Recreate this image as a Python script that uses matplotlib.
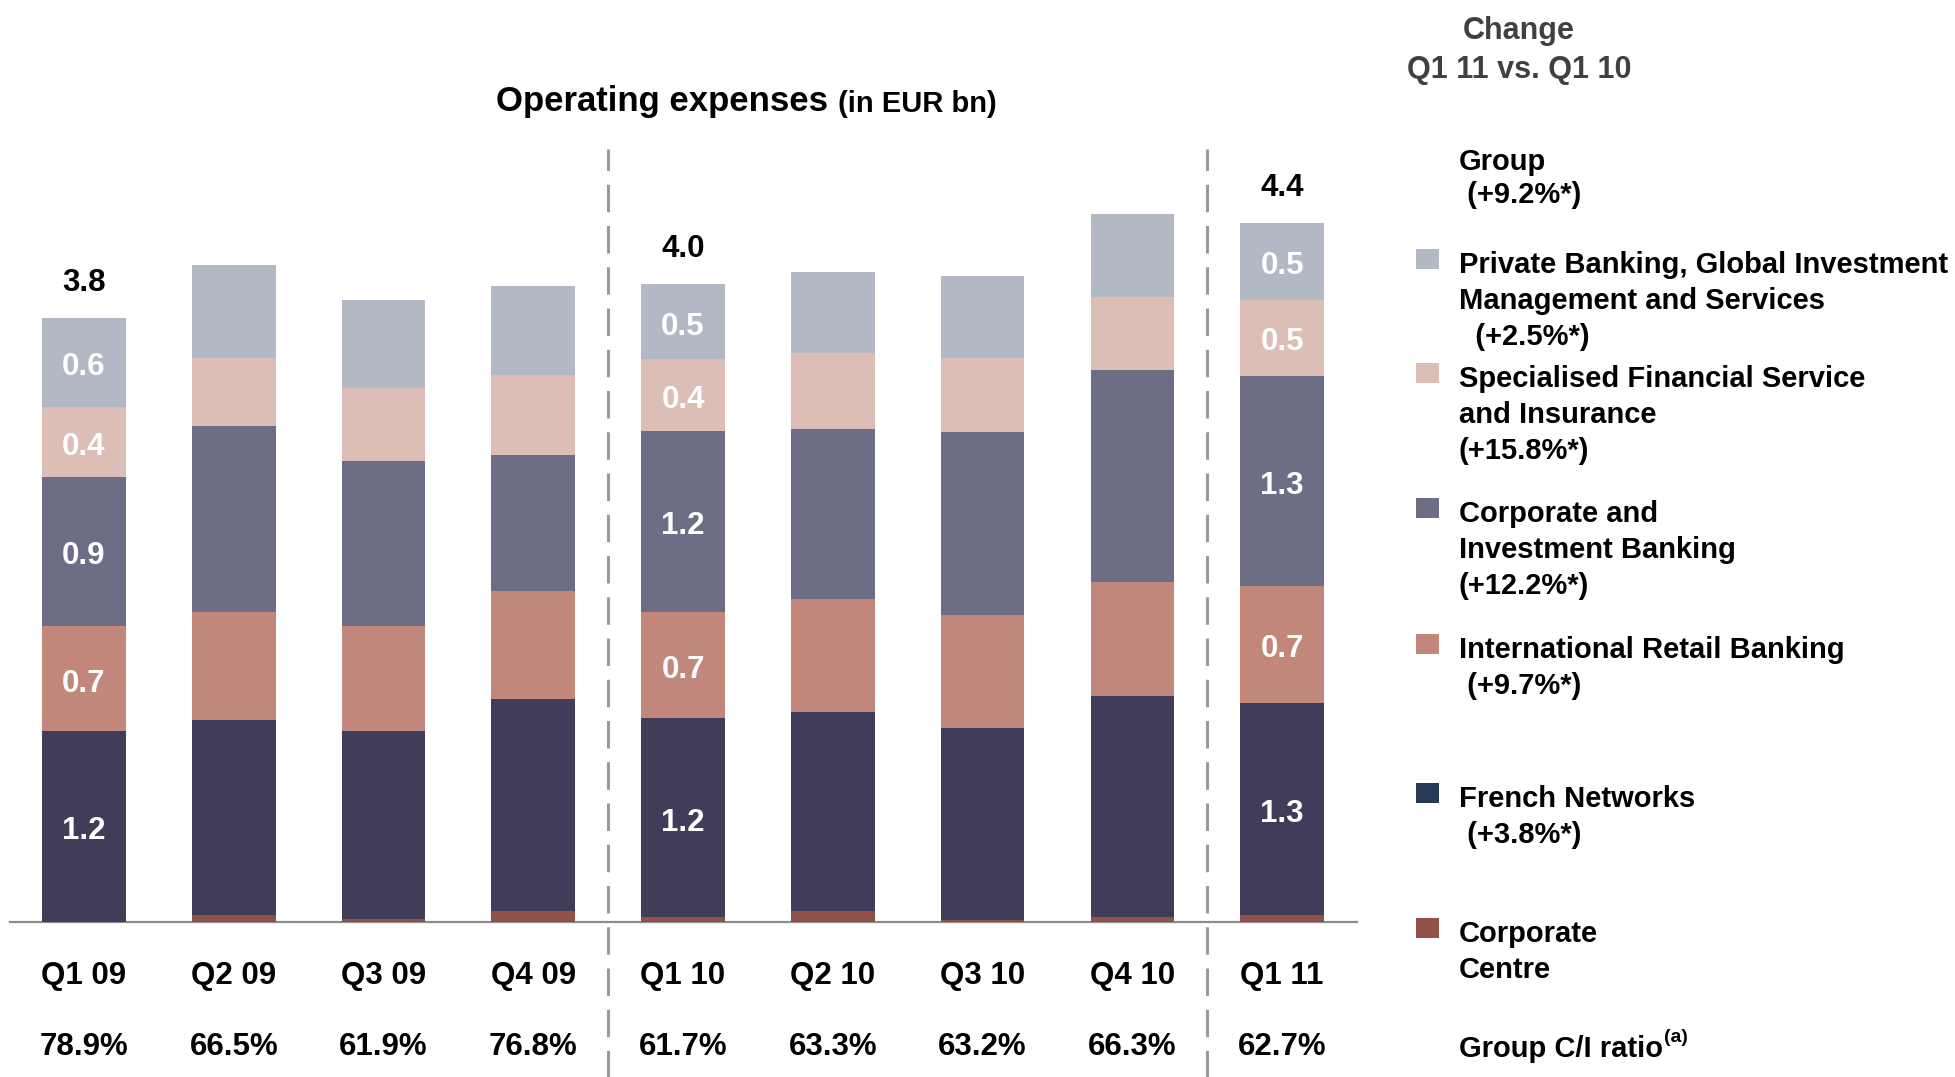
import matplotlib.pyplot as plt
from matplotlib.patches import Rectangle
import numpy as np

plt.rcParams['font.family'] = ['Liberation Sans', 'DejaVu Sans']
plt.rcParams['font.weight'] = 'bold'

# data (EUR bn)
quarters = ['Q1 09', 'Q2 09', 'Q3 09', 'Q4 09', 'Q1 10', 'Q2 10', 'Q3 10', 'Q4 10', 'Q1 11']
ci_ratio = ['78.9%', '66.5%', '61.9%', '76.8%', '61.7%', '63.3%', '63.2%', '66.3%', '62.7%']

corp_centre = [0.0, 0.045, 0.02, 0.07, 0.03, 0.07, 0.01, 0.03, 0.045]
french_net = [1.2, 1.225, 1.18, 1.33, 1.25, 1.25, 1.21, 1.39, 1.33]
intl_retail = [0.66, 0.68, 0.66, 0.68, 0.67, 0.71, 0.71, 0.72, 0.74]
cib = [0.94, 1.17, 1.04, 0.86, 1.14, 1.07, 1.15, 1.33, 1.32]
sfs = [0.44, 0.43, 0.46, 0.50, 0.45, 0.48, 0.47, 0.46, 0.48]
pbgims = [0.56, 0.58, 0.55, 0.56, 0.47, 0.51, 0.51, 0.52, 0.48]

# value labels printed on the bars (only Q1 bars carry them)
lbl_cc = ['', '', '', '', '', '', '', '', '']
lbl_fn = ['1.2', '', '', '', '1.2', '', '', '', '1.3']
lbl_irb = ['0.7', '', '', '', '0.7', '', '', '', '0.7']
lbl_cib = ['0.9', '', '', '', '1.2', '', '', '', '1.3']
lbl_sfs = ['0.4', '', '', '', '0.4', '', '', '', '0.5']
lbl_pb = ['0.6', '', '', '', '0.5', '', '', '', '0.5']
totals = ['3.8', '', '', '', '4.0', '', '', '', '4.4']

legend_names = ['Private Banking, Global Investment\nManagement and Services',
                'Specialised Financial Service\nand Insurance',
                'Corporate and\nInvestment Banking',
                'International Retail Banking',
                'French Networks',
                'Corporate\nCentre']
legend_change = ['  (+2.5%*)', '(+15.8%*)', '(+12.2%*)', ' (+9.7%*)', ' (+3.8%*)', '']
group_change = ' (+9.2%*)'

# colours
c_cc = '#8F5148'
c_fn = '#403D5A'
c_irb = '#C0877A'
c_cib = '#6D6D85'
c_sfs = '#DCBEB6'
c_pb = '#B2B9C4'
c_fn_legend = '#253B55'

W, H = 1955, 1077
fig = plt.figure(figsize=(W / 100, H / 100), dpi=100)


def fx(x):
    return x / W


def fy(y):
    # small downward nudge so va='center' text sits like the original
    return 1 - (y + 4) / H


# axes: baseline at y=922px, 159 px per bn
ax = fig.add_axes([fx(10), 1 - 922 / H, fx(1357 - 10), 795 / H])
ax.set_xlim(-0.494, 8.50)
ax.set_ylim(0, 5)
ax.axis('off')

dy = -0.03  # same nudge in data units for labels inside the axes
x = np.arange(len(quarters))
bw = 0.558
series = [(corp_centre, c_cc, lbl_cc), (french_net, c_fn, lbl_fn), (intl_retail, c_irb, lbl_irb),
          (cib, c_cib, lbl_cib), (sfs, c_sfs, lbl_sfs), (pbgims, c_pb, lbl_pb)]
bottom = np.zeros(len(quarters))
for vals, col, lbls in series:
    vals = np.array(vals)
    ax.bar(x, vals, bw, bottom=bottom, color=col, linewidth=0, zorder=2)
    for i, t in enumerate(lbls):
        if t:
            ax.text(x[i], bottom[i] + vals[i] / 2 + dy, t, ha='center', va='center',
                    color='white', fontsize=22.5, fontweight='bold', zorder=3)
    bottom = bottom + vals

for i, t in enumerate(totals):
    if t:
        ax.text(x[i], bottom[i] + 0.25 + dy, t, ha='center', va='center', color='black',
                fontsize=22.5, fontweight='bold')

# baseline
ax.plot([-0.494, 8.50], [0, 0], color='#8C8C8C', lw=1.6, zorder=1, clip_on=False)

# dashed separators
for xs in [3.5, 7.5]:
    ax.plot([xs, xs], [-1.0, 4.86], color='#9A9A9A', lw=2.2, dashes=(9, 4.5),
            clip_on=False, zorder=1)

# quarter labels and C/I ratios
for i in range(len(quarters)):
    ax.text(x[i], -0.31 + dy, quarters[i], ha='center', va='center', fontsize=22.5,
            fontweight='bold', clip_on=False)
    ax.text(x[i], -0.755 + dy, ci_ratio[i], ha='center', va='center', fontsize=22.5,
            fontweight='bold', clip_on=False)

# title
t1 = fig.text(fx(496), fy(97), 'Operating expenses ', ha='left', va='center',
              fontsize=25, fontweight='bold')
ax.annotate('(in EUR bn)', xy=(1, 0), xycoords=t1, xytext=(0, 0),
            textcoords='offset points', ha='left', va='bottom', fontsize=21,
            fontweight='bold')

# right-hand legend column
fig.text(fx(1519), fy(27), 'Change', ha='center', va='center', fontsize=22,
         color='#404040', fontweight='bold')
fig.text(fx(1519), fy(66), 'Q1 11 vs. Q1 10', ha='center', va='center', fontsize=22,
         color='#404040', fontweight='bold')

step = 36
fig.text(fx(1459), fy(158), 'Group', ha='left', va='center', fontsize=21, fontweight='bold')
fig.text(fx(1459), fy(158 + 33), group_change, ha='left', va='center', fontsize=21,
         fontweight='bold')

legend_cols = [c_pb, c_sfs, c_cib, c_irb, c_fn_legend, c_cc]
legend_top = [261, 375, 510, 646, 795, 930]
for name, chg, col, yt in zip(legend_names, legend_change, legend_cols, legend_top):
    fig.add_artist(Rectangle((fx(1416), fy(yt + 4)), fx(23), 20 / H,
                             transform=fig.transFigure, color=col, linewidth=0))
    lines = name.split('\n') + ([chg] if chg else [])
    for k, ln in enumerate(lines):
        fig.text(fx(1459), fy(yt + k * step), ln, ha='left', va='center', fontsize=21,
                 fontweight='bold')

t2 = fig.text(fx(1459), fy(1045), 'Group C/I ratio', ha='left', va='center',
              fontsize=21, fontweight='bold')
ax.annotate('(a)', xy=(1, 0.6), xycoords=t2, xytext=(1, 0),
            textcoords='offset points', ha='left', va='bottom', fontsize=14,
            fontweight='bold')

fig.savefig('out.png', dpi=100)
